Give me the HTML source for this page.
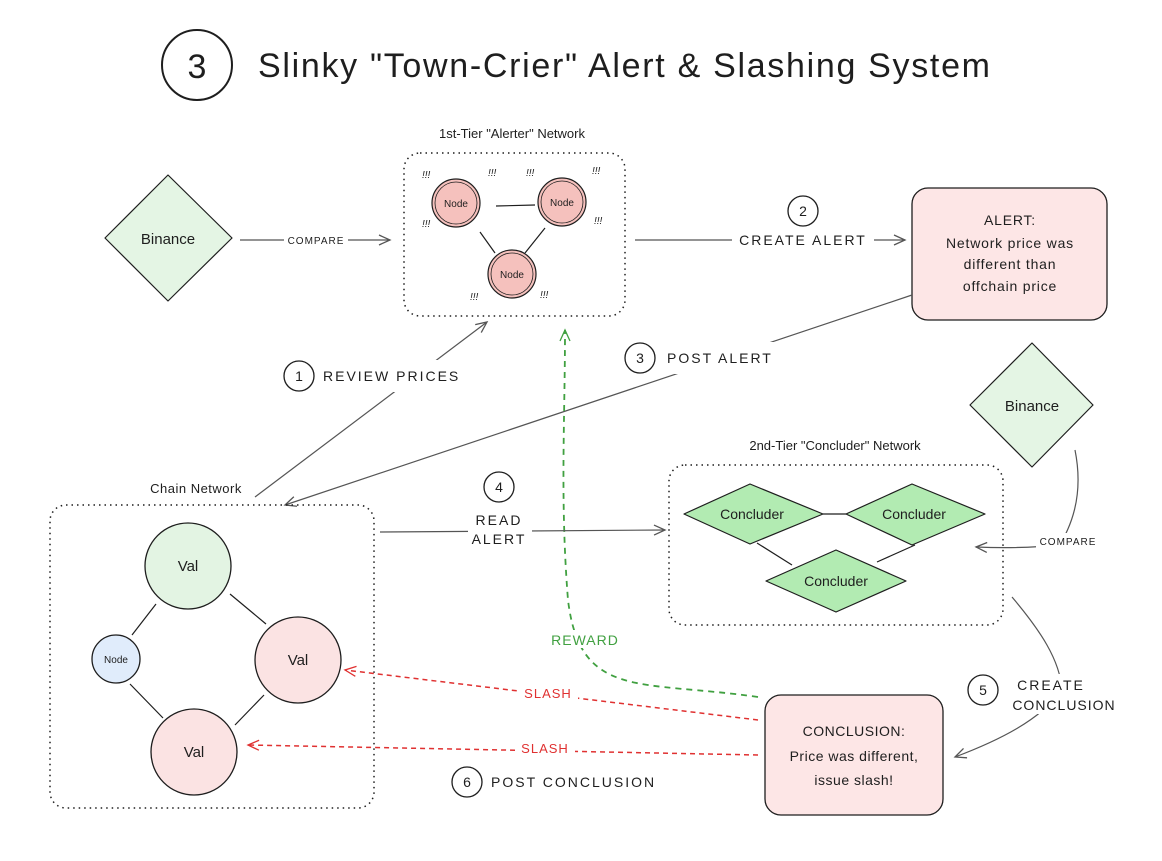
<!DOCTYPE html>
<html><head><style>
html,body{margin:0;padding:0;background:#fff;}
svg{display:block;}
text{font-family:"Liberation Sans",sans-serif;fill:#1e1e1e;}
.u{letter-spacing:2px;}
</style></head><body>
<svg width="1162" height="861" viewBox="0 0 1162 861" xmlns="http://www.w3.org/2000/svg">
<defs>
<marker id="a" markerWidth="14" markerHeight="12" refX="12" refY="6" orient="auto" markerUnits="userSpaceOnUse"><path d="M1,1 L12,6 L1,11" fill="none" stroke="#555" stroke-width="1.3"/></marker>
<marker id="r" markerWidth="14" markerHeight="12" refX="12" refY="6" orient="auto" markerUnits="userSpaceOnUse"><path d="M1,1 L12,6 L1,11" fill="none" stroke="#e03131" stroke-width="1.3"/></marker>
<marker id="g" markerWidth="14" markerHeight="12" refX="12" refY="6" orient="auto" markerUnits="userSpaceOnUse"><path d="M1,1 L12,6 L1,11" fill="none" stroke="#40a040" stroke-width="1.3"/></marker>
</defs>
<!-- title -->
<circle cx="197" cy="65" r="35" fill="none" stroke="#1e1e1e" stroke-width="2"/>
<text x="197" y="78" font-size="34" text-anchor="middle">3</text>
<text x="258" y="77" font-size="34" textLength="732" lengthAdjust="spacing">Slinky "Town-Crier" Alert &amp; Slashing System</text>

<!-- Binance 1 -->
<path d="M168,175 L232,238 L168,301 L105,238 Z" fill="#e4f5e4" stroke="#1e1e1e" stroke-width="1.2" stroke-linejoin="round"/>
<text x="168" y="244" font-size="15" text-anchor="middle">Binance</text>
<line x1="240" y1="240" x2="390" y2="240" stroke="#555" stroke-width="1.2" marker-end="url(#a)"/>
<rect x="284" y="232" width="64" height="16" fill="#fff"/>
<text x="316" y="244" font-size="10" text-anchor="middle" class="u" style="letter-spacing:1px">COMPARE</text>

<!-- Alerter -->
<text x="512" y="138" font-size="13" text-anchor="middle">1st-Tier "Alerter" Network</text>
<rect x="404" y="153" width="221" height="163" rx="16" fill="none" stroke="#1e1e1e" stroke-width="1.5" stroke-dasharray="1.5 4"/>
<line x1="496" y1="206" x2="535" y2="205" stroke="#1e1e1e" stroke-width="1.2"/>
<line x1="480" y1="232" x2="495" y2="253" stroke="#1e1e1e" stroke-width="1.2"/>
<line x1="545" y1="228" x2="525" y2="253" stroke="#1e1e1e" stroke-width="1.2"/>
<g fill="#f5c1bd" stroke="#1e1e1e" stroke-width="1.2">
<circle cx="456" cy="203" r="24"/><circle cx="562" cy="202" r="24"/><circle cx="512" cy="274" r="24"/>
</g>
<g fill="none" stroke="#1e1e1e" stroke-width="0.8">
<circle cx="456" cy="203" r="21"/><circle cx="562" cy="202" r="21"/><circle cx="512" cy="274" r="21"/>
</g>
<g font-size="10" text-anchor="middle"><text x="456" y="207">Node</text><text x="562" y="206">Node</text><text x="512" y="278">Node</text></g>
<g font-size="10" font-style="italic">
<text x="422" y="178">!!!</text><text x="488" y="176">!!!</text><text x="526" y="176">!!!</text><text x="592" y="174">!!!</text>
<text x="422" y="227">!!!</text><text x="594" y="224">!!!</text><text x="470" y="300">!!!</text><text x="540" y="298">!!!</text>
</g>

<!-- create alert -->
<line x1="635" y1="240" x2="905" y2="240" stroke="#555" stroke-width="1.2" marker-end="url(#a)"/>
<circle cx="803" cy="211" r="15" fill="#fff" stroke="#1e1e1e" stroke-width="1.3"/>
<text x="803" y="216" font-size="14" text-anchor="middle">2</text>
<rect x="732" y="231" width="142" height="18" fill="#fff"/>
<text x="803" y="245" font-size="14" text-anchor="middle" class="u">CREATE ALERT</text>

<rect x="912" y="188" width="195" height="132" rx="16" fill="#fde6e6" stroke="#1e1e1e" stroke-width="1.3"/>
<g font-size="14" text-anchor="middle" style="letter-spacing:0.8px"><text x="1010" y="225">ALERT:</text><text x="1010" y="248">Network price was</text><text x="1010" y="269">different than</text><text x="1010" y="291">offchain price</text></g>

<!-- post alert -->
<line x1="912" y1="295" x2="285" y2="505" stroke="#555" stroke-width="1.2" marker-end="url(#a)"/>
<rect x="625" y="342" width="160" height="32" fill="#fff"/>
<circle cx="640" cy="358" r="15" fill="#fff" stroke="#1e1e1e" stroke-width="1.3"/>
<text x="640" y="363" font-size="14" text-anchor="middle">3</text>
<text x="667" y="363" font-size="14" class="u">POST ALERT</text>

<!-- review prices -->
<line x1="255" y1="497" x2="487" y2="322" stroke="#555" stroke-width="1.2" marker-end="url(#a)"/>
<rect x="284" y="360" width="182" height="32" fill="#fff"/>
<circle cx="299" cy="376" r="15" fill="#fff" stroke="#1e1e1e" stroke-width="1.3"/>
<text x="299" y="381" font-size="14" text-anchor="middle">1</text>
<text x="323" y="381" font-size="14" class="u">REVIEW PRICES</text>

<!-- reward -->
<path d="M758,697 C640,680 580,700 568,600 C560,500 565,420 565,330" fill="none" stroke="#40a040" stroke-width="1.8" stroke-dasharray="6 5" marker-end="url(#g)"/>
<rect x="546" y="630" width="78" height="18" fill="#fff"/>
<text x="585" y="645" font-size="14" text-anchor="middle" class="u" style="fill:#40a040;letter-spacing:1px">REWARD</text>

<!-- Binance 2 -->
<path d="M1032,343 L1093,405 L1032,467 L970,405 Z" fill="#e4f5e4" stroke="#1e1e1e" stroke-width="1.2" stroke-linejoin="round"/>
<text x="1032" y="411" font-size="15" text-anchor="middle">Binance</text>
<path d="M1075,450 C1085,500 1068,530 1060,545 C1030,548 1000,548 976,547" fill="none" stroke="#555" stroke-width="1.2" marker-end="url(#a)"/>
<rect x="1036" y="533" width="64" height="16" fill="#fff"/>
<text x="1068" y="545" font-size="10" text-anchor="middle" style="letter-spacing:1px">COMPARE</text>

<!-- Concluder -->
<text x="835" y="450" font-size="13" text-anchor="middle">2nd-Tier "Concluder" Network</text>
<rect x="669" y="465" width="334" height="160" rx="16" fill="none" stroke="#1e1e1e" stroke-width="1.5" stroke-dasharray="1.5 4"/>
<line x1="823" y1="514" x2="846" y2="514" stroke="#1e1e1e" stroke-width="1.2"/>
<line x1="757" y1="543" x2="792" y2="565" stroke="#1e1e1e" stroke-width="1.2"/>
<line x1="915" y1="545" x2="877" y2="562" stroke="#1e1e1e" stroke-width="1.2"/>
<g fill="#b2ebb2" stroke="#1e1e1e" stroke-width="1.2" stroke-linejoin="round">
<path d="M750,484 L823,514 L750,544 L684,514 Z"/>
<path d="M912,484 L985,514 L912,545 L846,514 Z"/>
<path d="M836,550 L906,581 L836,612 L766,581 Z"/>
</g>
<g font-size="14" text-anchor="middle"><text x="752" y="519">Concluder</text><text x="914" y="519">Concluder</text><text x="836" y="586">Concluder</text></g>

<!-- Chain -->
<text x="196" y="493" font-size="13" text-anchor="middle" style="letter-spacing:0.5px">Chain Network</text>
<rect x="50" y="505" width="324" height="303" rx="16" fill="none" stroke="#1e1e1e" stroke-width="1.5" stroke-dasharray="1.5 4"/>
<g stroke="#1e1e1e" stroke-width="1.2">
<line x1="156" y1="604" x2="132" y2="635"/>
<line x1="230" y1="594" x2="266" y2="624"/>
<line x1="130" y1="684" x2="163" y2="718"/>
<line x1="264" y1="695" x2="235" y2="725"/>
</g>
<circle cx="188" cy="566" r="43" fill="#e3f4e3" stroke="#1e1e1e" stroke-width="1.3"/>
<circle cx="298" cy="660" r="43" fill="#fbe3e3" stroke="#1e1e1e" stroke-width="1.3"/>
<circle cx="194" cy="752" r="43" fill="#fbe3e3" stroke="#1e1e1e" stroke-width="1.3"/>
<circle cx="116" cy="659" r="24" fill="#e0ecfb" stroke="#1e1e1e" stroke-width="1.3"/>
<g font-size="15" text-anchor="middle"><text x="188" y="571">Val</text><text x="298" y="665">Val</text><text x="194" y="757">Val</text></g>
<text x="116" y="663" font-size="10" text-anchor="middle">Node</text>

<!-- read alert -->
<line x1="380" y1="532" x2="665" y2="530" stroke="#555" stroke-width="1.2" marker-end="url(#a)"/>
<circle cx="499" cy="487" r="15" fill="#fff" stroke="#1e1e1e" stroke-width="1.3"/>
<text x="499" y="492" font-size="14" text-anchor="middle">4</text>
<rect x="468" y="510" width="64" height="38" fill="#fff"/>
<text x="499" y="525" font-size="14" text-anchor="middle" class="u">READ</text>
<text x="499" y="544" font-size="14" text-anchor="middle" class="u">ALERT</text>

<!-- conclusion -->
<rect x="765" y="695" width="178" height="120" rx="16" fill="#fde6e6" stroke="#1e1e1e" stroke-width="1.3"/>
<g font-size="14" text-anchor="middle" style="letter-spacing:0.5px"><text x="854" y="736">CONCLUSION:</text><text x="854" y="761">Price was different,</text><text x="854" y="785">issue slash!</text></g>
<path d="M1012,597 C1040,630 1060,660 1062,690 C1040,720 1000,740 955,757" fill="none" stroke="#555" stroke-width="1.2" marker-end="url(#a)"/>
<rect x="1012" y="674" width="104" height="40" fill="#fff"/>
<circle cx="983" cy="690" r="15" fill="#fff" stroke="#1e1e1e" stroke-width="1.3"/>
<text x="983" y="695" font-size="14" text-anchor="middle">5</text>
<text x="1051" y="690" font-size="14" text-anchor="middle" class="u">CREATE</text>
<text x="1064" y="710" font-size="14" text-anchor="middle" class="u" style="letter-spacing:1px">CONCLUSION</text>

<!-- slash -->
<line x1="758" y1="720" x2="345" y2="670" stroke="#e03131" stroke-width="1.5" stroke-dasharray="5 4" marker-end="url(#r)"/>
<line x1="758" y1="755" x2="248" y2="745" stroke="#e03131" stroke-width="1.5" stroke-dasharray="5 4" marker-end="url(#r)"/>
<rect x="518" y="685" width="60" height="16" fill="#fff"/>
<text x="548" y="698" font-size="13" text-anchor="middle" style="fill:#e03131;letter-spacing:1px">SLASH</text>
<rect x="515" y="740" width="60" height="16" fill="#fff"/>
<text x="545" y="753" font-size="13" text-anchor="middle" style="fill:#e03131;letter-spacing:1px">SLASH</text>

<circle cx="467" cy="782" r="15" fill="#fff" stroke="#1e1e1e" stroke-width="1.3"/>
<text x="467" y="787" font-size="14" text-anchor="middle">6</text>
<text x="491" y="787" font-size="14" class="u">POST CONCLUSION</text>
</svg>
</body></html>
